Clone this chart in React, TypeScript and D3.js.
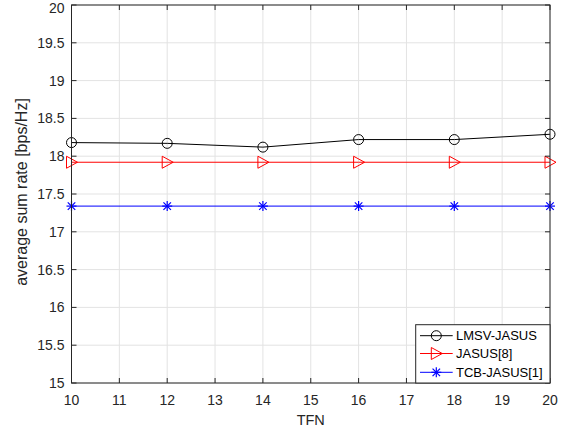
import React from "react";
import * as d3 from "d3";

const xValues = [10, 12, 14, 16, 18, 20];
const lmsv = [18.18, 18.17, 18.12, 18.22, 18.22, 18.29];
const jasus = [17.92, 17.92, 17.92, 17.92, 17.92, 17.92];
const tcb = [17.34, 17.34, 17.34, 17.34, 17.34, 17.34];
const xTicks = [10, 11, 12, 13, 14, 15, 16, 17, 18, 19, 20];
const yTicks = [15, 15.5, 16, 16.5, 17, 17.5, 18, 18.5, 19, 19.5, 20];
const seriesNames = ["LMSV-JASUS", "JASUS[8]", "TCB-JASUS[1]"];
const seriesColors = ["#000000", "#ff0000", "#0000ff"];
const seriesMarkers = ["circle", "triangle", "star"];

const W = 570, H = 436;
const L = 71.5, R = 550, T = 5, B = 383;
const font = "Liberation Sans, Arial, Helvetica, sans-serif";

function Marker({ type, x, y, color }: { type: string; x: number; y: number; color: string }) {
  if (type === "circle") return <circle cx={x} cy={y} r={5} fill="none" stroke={color} strokeWidth={1} />;
  if (type === "triangle") {
    const p = `${x - 5},${y - 6} ${x + 6},${y} ${x - 5},${y + 6}`;
    return <polygon points={p} fill="none" stroke={color} strokeWidth={1} />;
  }
  const s = 5;
  return (
    <g stroke={color} strokeWidth={1.2}>
      <line x1={x - s} y1={y} x2={x + s} y2={y} />
      <line x1={x} y1={y - s} x2={x} y2={y + s} />
      <line x1={x - s * 0.75} y1={y - s * 0.75} x2={x + s * 0.75} y2={y + s * 0.75} />
      <line x1={x - s * 0.75} y1={y + s * 0.75} x2={x + s * 0.75} y2={y - s * 0.75} />
    </g>
  );
}

export default function App() {
  const x = d3.scaleLinear().domain([10, 20]).range([L, R]);
  const y = d3.scaleLinear().domain([15, 20]).range([B, T]);
  const data = [lmsv, jasus, tcb];
  const line = d3.line<number>().x((_, i) => x(xValues[i])).y((d) => y(d));

  const legX = 415.7, legY = 324.7, legW = R - 415.7, legH = B - 324.7;
  const legRows = [335.7, 353.5, 372.3];

  return (
    <svg width={W} height={H} style={{ display: "block", position: "absolute", left: 0, top: 0 }} fontFamily={font}>
      <rect x={0} y={0} width={W} height={H} fill="#fff" />
      <rect x={L} y={T} width={R - L} height={B - T} fill="#fff" />
      {xTicks.map((t) => (
        <line key={"gx" + t} x1={x(t)} x2={x(t)} y1={T} y2={B} stroke="#e3e3e3" strokeWidth={1} />
      ))}
      {yTicks.map((t) => (
        <line key={"gy" + t} x1={L} x2={R} y1={y(t)} y2={y(t)} stroke="#e3e3e3" strokeWidth={1} />
      ))}
      {data.map((d, si) => (
        <g key={si}>
          <path d={line(d) || ""} fill="none" stroke={seriesColors[si]} strokeWidth={1} />
          {d.map((v, i) => (
            <Marker key={i} type={seriesMarkers[si]} x={x(xValues[i])} y={y(v)} color={seriesColors[si]} />
          ))}
        </g>
      ))}
      {xTicks.map((t) => (
        <g key={"tx" + t}>
          <line x1={x(t)} x2={x(t)} y1={B} y2={B - 5} stroke="#262626" />
          <line x1={x(t)} x2={x(t)} y1={T} y2={T + 5} stroke="#262626" />
          <text x={x(t)} y={B + 22} textAnchor="middle" fontSize={14} fill="#262626">{t}</text>
        </g>
      ))}
      {yTicks.map((t) => (
        <g key={"ty" + t}>
          <line x1={L} x2={L + 5} y1={y(t)} y2={y(t)} stroke="#262626" />
          <line x1={R} x2={R - 5} y1={y(t)} y2={y(t)} stroke="#262626" />
          <text x={L - 7} y={Math.max(y(t) + 5, 13)} textAnchor="end" fontSize={14} fill="#262626">{t}</text>
        </g>
      ))}
      <rect x={L} y={T} width={R - L} height={B - T} fill="none" stroke="#262626" strokeWidth={1} />
      <text x={(L + R) / 2} y={425} textAnchor="middle" fontSize={14.5} fill="#262626">TFN</text>
      <text transform={`translate(27,${(T + B) / 2 - 2}) rotate(-90)`} textAnchor="middle" fontSize={16} fill="#262626">
        average sum rate [bps/Hz]
      </text>
      <rect x={legX} y={legY} width={legW} height={legH} fill="#fff" stroke="#262626" strokeWidth={1} />
      {seriesNames.map((n, i) => (
        <g key={n}>
          <line x1={420} x2={452.7} y1={legRows[i]} y2={legRows[i]} stroke={seriesColors[i]} />
          <Marker type={seriesMarkers[i]} x={436.3} y={legRows[i]} color={seriesColors[i]} />
          <text x={456} y={legRows[i] + 4.5} fontSize={13} fill="#000">{n}</text>
        </g>
      ))}
    </svg>
  );
}
